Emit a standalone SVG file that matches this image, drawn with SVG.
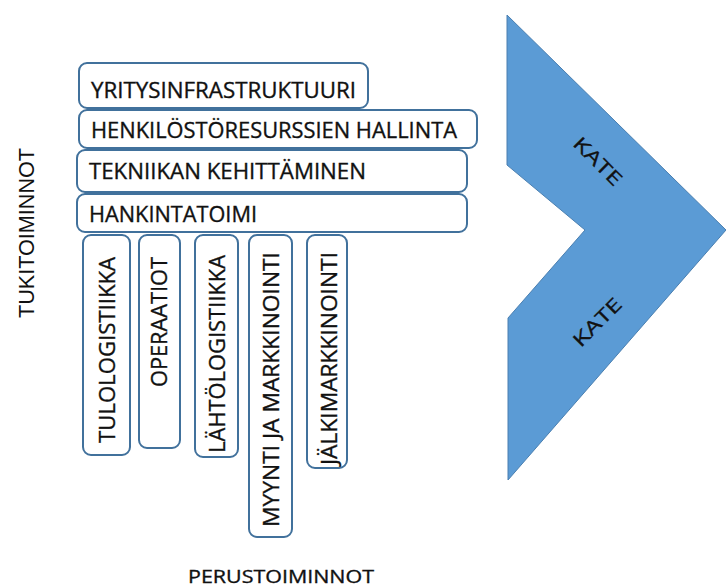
<svg xmlns="http://www.w3.org/2000/svg" width="726" height="588" viewBox="0 0 726 588">
<style>
.box{fill:#fff;stroke:#41719c;stroke-width:2}
.t{font-family:"Open Sans","Liberation Sans",sans-serif;font-size:22.5px;fill:#111;stroke:#111;stroke-width:0.35}
.a{font-family:"Liberation Sans",Arial,sans-serif;font-size:22px;fill:#111}
.k{font-family:"Open Sans","Liberation Sans",sans-serif;font-size:19px;fill:#111;text-anchor:middle;stroke:#111;stroke-width:0.3}
</style>
<rect width="726" height="588" fill="#fff"/>
<g id="chevron">
<polygon points="507,15 726,230 508,480 508,318 585,230 507,165" fill="#5b9bd5" stroke="#4a7fb0" stroke-width="1"/>
<text class="k" transform="translate(598,161) rotate(45)" dy="7" textLength="60" lengthAdjust="spacingAndGlyphs">KATE</text>
<text class="k" transform="translate(597,322) rotate(-45)" dy="7" textLength="60" lengthAdjust="spacingAndGlyphs">KATE</text>
</g>
<g id="yritys"><rect class="box" x="79" y="63" width="289" height="45" rx="8"/><text class="t" x="91" y="98" textLength="265" lengthAdjust="spacingAndGlyphs">YRITYSINFRASTRUKTUURI</text></g>
<g id="henkilo"><rect class="box" x="79" y="110" width="398" height="38" rx="8"/><text class="t" x="91" y="138" textLength="366" lengthAdjust="spacingAndGlyphs">HENKILÖSTÖRESURSSIEN HALLINTA</text></g>
<g id="tekniikka"><rect class="box" x="77" y="150" width="390" height="42" rx="8"/><text class="t" x="89" y="179" textLength="277" lengthAdjust="spacingAndGlyphs">TEKNIIKAN KEHITTÄMINEN</text></g>
<g id="hankinta"><rect class="box" x="77" y="194" width="390" height="38" rx="8"/><text class="t" x="89" y="222" textLength="168" lengthAdjust="spacingAndGlyphs">HANKINTATOIMI</text></g>
<g id="tulo"><rect class="box" x="83" y="235" width="47" height="220" rx="8"/><text class="t" transform="translate(115,443) rotate(-90)" textLength="186" lengthAdjust="spacingAndGlyphs">TULOLOGISTIIKKA</text></g>
<g id="operaatiot"><rect class="box" x="139" y="235" width="41" height="213" rx="8"/><text class="t" transform="translate(167,387) rotate(-90)" textLength="130" lengthAdjust="spacingAndGlyphs">OPERAATIOT</text></g>
<g id="lahto"><rect class="box" x="195" y="235" width="43" height="222" rx="8"/><text class="t" transform="translate(225,453) rotate(-90)" textLength="198" lengthAdjust="spacingAndGlyphs">LÄHTÖLOGISTIIKKA</text></g>
<g id="myynti"><rect class="box" x="249" y="235" width="43" height="302" rx="8"/><text class="t" transform="translate(279,527) rotate(-90)" textLength="275" lengthAdjust="spacingAndGlyphs">MYYNTI JA MARKKINOINTI</text></g>
<g id="jalki"><rect class="box" x="307" y="235" width="40" height="233" rx="8"/><text class="t" transform="translate(337,465) rotate(-90)" textLength="213" lengthAdjust="spacingAndGlyphs">JÄLKIMARKKINOINTI</text></g>
<g id="tukitoiminnot"><text class="a" transform="translate(34,318) rotate(-90)" textLength="170" lengthAdjust="spacingAndGlyphs">TUKITOIMINNOT</text></g>
<g id="perustoiminnot"><text class="t" x="188" y="583" style="font-size:19px" textLength="186" lengthAdjust="spacingAndGlyphs">PERUSTOIMINNOT</text></g>
<g id="connectors"/>
</svg>
